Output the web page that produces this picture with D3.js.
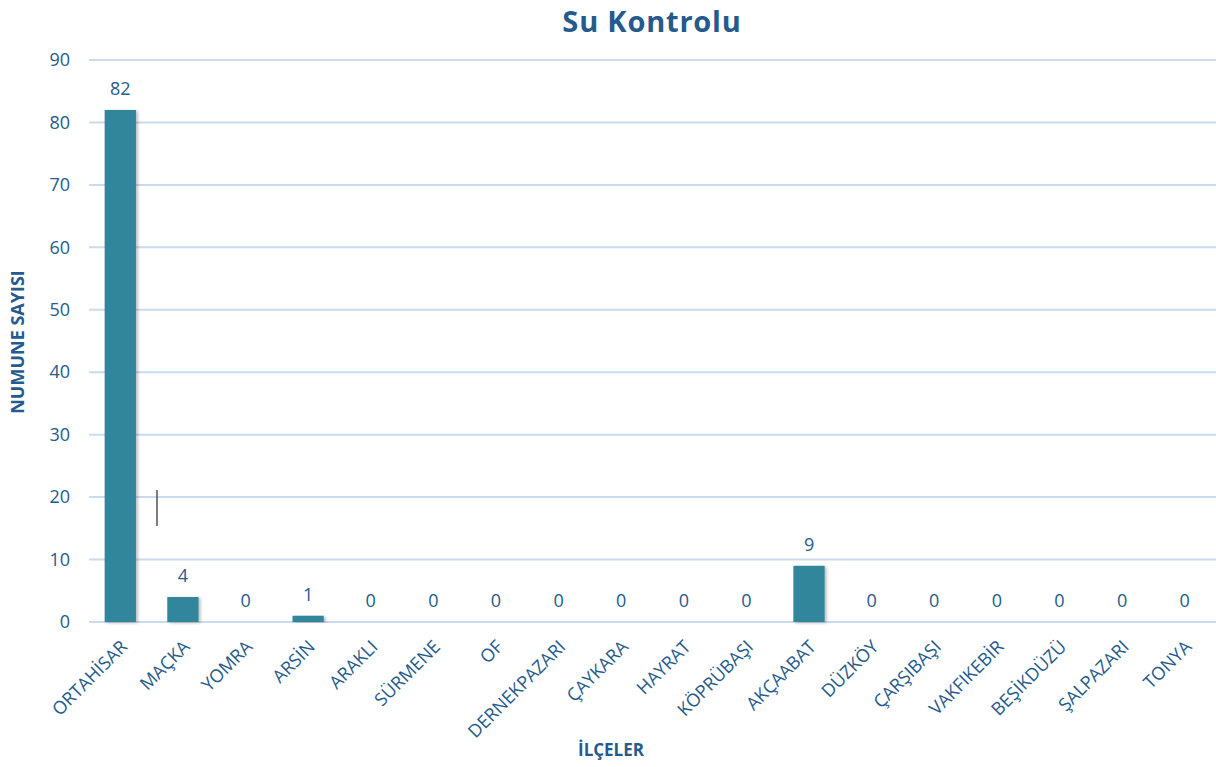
<!DOCTYPE html>
<html>
<head>
<meta charset="utf-8">
<script src="https://cdn.jsdelivr.net/npm/d3@7"></script>
<style>
  body { margin: 0; background: #fff; }
  svg text { font-family: "Open Sans", sans-serif; fill: #255B8C; }
</style>
</head>
<body>
<svg id="chart" width="1216" height="767"></svg>
<script>
const districts = ["ORTAHİSAR", "MAÇKA", "YOMRA", "ARSİN", "ARAKLI", "SÜRMENE", "OF", "DERNEKPAZARI", "ÇAYKARA", "HAYRAT", "KÖPRÜBAŞI", "AKÇAABAT", "DÜZKÖY", "ÇARŞIBAŞI", "VAKFIKEBİR", "BEŞİKDÜZÜ", "ŞALPAZARI", "TONYA"];
const samples = [82, 4, 0, 1, 0, 0, 0, 0, 0, 0, 0, 9, 0, 0, 0, 0, 0, 0];
const yTicks = [0, 10, 20, 30, 40, 50, 60, 70, 80, 90];

const svg = d3.select("#chart"),
    margin = { top: 60, right: 0, bottom: 145, left: 89 },
    width = +svg.attr("width") - margin.left - margin.right,
    height = +svg.attr("height") - margin.top - margin.bottom,
    g = svg.append("g").attr("transform", `translate(${margin.left},${margin.top})`);

const x = d3.scaleBand().domain(districts).range([0, width]).paddingInner(0.5).paddingOuter(0.25);
const y = d3.scaleLinear().domain([0, 90]).range([height, 0]);

const defs = svg.append("defs");
const f = defs.append("filter").attr("id", "shadow").attr("x", "-20%").attr("y", "-5%").attr("width", "150%").attr("height", "120%");
f.append("feDropShadow").attr("dx", 2).attr("dy", 1).attr("stdDeviation", 1.5).attr("flood-color", "#000").attr("flood-opacity", 0.25);

// gridlines
g.selectAll(".grid").data(yTicks).enter().append("line")
    .attr("x1", 0).attr("x2", width)
    .attr("y1", d => y(d)).attr("y2", d => y(d))
    .attr("stroke", "#C9DCEE").attr("stroke-width", 2);

// y axis labels
const yAxis = g.append("g").call(d3.axisLeft(y).tickValues(yTicks).tickSize(0).tickPadding(19));
yAxis.select(".domain").remove();
yAxis.selectAll("text").style("font-size", "18px").style("font-family", "'Open Sans', sans-serif").attr("fill", "#255B8C");

// bars
g.selectAll(".bar").data(samples).enter().append("rect")
    .attr("x", (d, i) => x(districts[i]))
    .attr("y", d => y(d))
    .attr("width", x.bandwidth())
    .attr("height", d => height - y(d))
    .attr("fill", "#32869B")
    .attr("filter", "url(#shadow)");

// value labels
g.selectAll(".val").data(samples).enter().append("text")
    .attr("x", (d, i) => x(districts[i]) + x.bandwidth() / 2)
    .attr("y", d => y(d) - 15)
    .attr("text-anchor", "middle")
    .style("font-size", "18px")
    .text(d => d);

// x labels
g.selectAll(".xl").data(districts).enter().append("text")
    .attr("transform", d => `translate(${x(d) + x.bandwidth() / 2 + 8},${height + 26}) rotate(-45)`)
    .attr("text-anchor", "end")
    .style("font-size", "18px")
    .text(d => d);

// stray marker line
svg.append("line").attr("x1", 157).attr("x2", 157).attr("y1", 490).attr("y2", 526)
    .attr("stroke", "#555").attr("stroke-width", 1.5);

// titles
svg.append("text").attr("x", 652).attr("y", 32).attr("text-anchor", "middle")
    .style("font-size", "29px").style("font-weight", "bold").style("letter-spacing", "0.8px")
    .attr("fill", "#1F4E79").text("Su Kontrolu");
svg.append("text").attr("x", 611).attr("y", 756).attr("text-anchor", "middle")
    .style("font-size", "17px").style("font-weight", "bold").attr("fill", "#1F4E79").text("İLÇELER");
svg.append("text").attr("transform", "translate(24,342) rotate(-90)").attr("text-anchor", "middle")
    .style("font-size", "18px").style("font-weight", "bold").attr("fill", "#1F4E79").text("NUMUNE SAYISI");
</script>
</body>
</html>
